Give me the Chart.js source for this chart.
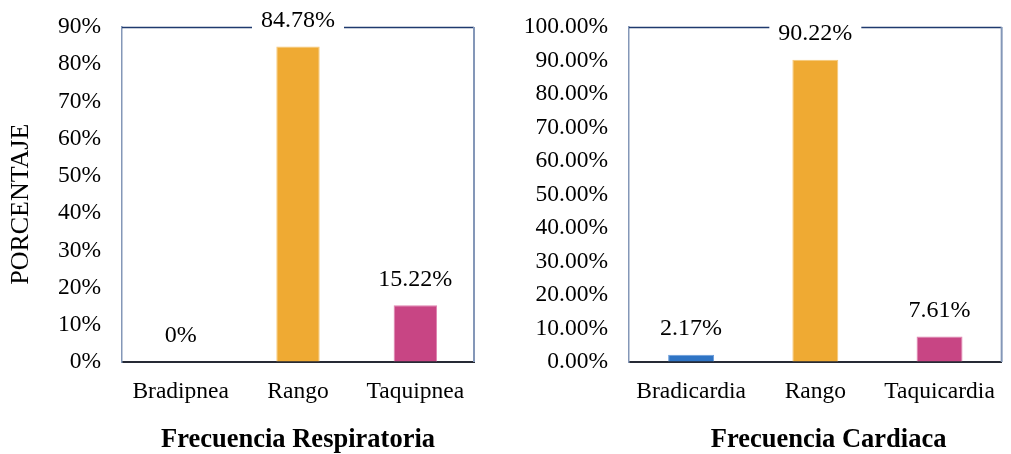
<!DOCTYPE html>
<html>
<head>
<meta charset="utf-8">
<script src="https://cdn.jsdelivr.net/npm/chart.js@4"></script>
<style>
  body { margin: 0; background: #fff; }
  #wrap { position: relative; width: 1011px; height: 454px; }
  #c1 { position: absolute; left: 0; top: 0; }
  #c2 { position: absolute; left: 510px; top: 0; }
</style>
</head>
<body>
<div id="wrap">
  <canvas id="c1" width="510" height="454"></canvas>
  <canvas id="c2" width="501" height="454"></canvas>
</div>
<script>
// Datos
const respLabels = ['Bradipnea', 'Rango', 'Taquipnea'];
const respValues = [0, 84.78, 15.22];
const respTitle = 'Frecuencia Respiratoria';

const cardLabels = ['Bradicardia', 'Rango', 'Taquicardia'];
const cardValues = [2.17, 90.22, 7.61];
const cardTitle = 'Frecuencia Cardiaca';

const barColors = ['#2F74C4', '#EFAA33', '#C84584'];
const barEdges = ['#6A9CDA', '#F6C877', '#E084B0'];

const serif = 'Liberation Serif';

// Borde del area del grafico + etiquetas con fondo blanco
const framePlugin = {
  id: 'frame',
  beforeDatasetsDraw(chart) {
    const a = chart.chartArea;
    const ctx = chart.ctx;
    ctx.save();
    ctx.lineWidth = 1.5;
    ctx.strokeStyle = '#1F3A6E';
    ctx.beginPath();
    ctx.moveTo(a.left, a.top + 0.5);
    ctx.lineTo(a.right, a.top + 0.5);
    ctx.stroke();
    ctx.lineWidth = 2;
    ctx.strokeStyle = '#8497B8';
    ctx.beginPath();
    ctx.moveTo(a.right, a.top);
    ctx.lineTo(a.right, a.bottom);
    ctx.stroke();
    ctx.restore();
  },
  afterDatasetsDraw(chart, args, opts) {
    const ctx = chart.ctx;
    const meta = chart.getDatasetMeta(0);
    const values = chart.data.datasets[0].data;
    ctx.save();
    ctx.font = '24px "' + serif + '"';
    ctx.textAlign = 'center';
    ctx.textBaseline = 'middle';
    meta.data.forEach(function (bar, i) {
      const txt = opts.format(values[i]);
      const w = ctx.measureText(txt).width;
      const y = bar.y - 26;
      ctx.fillStyle = '#fff';
      ctx.fillRect(bar.x - w / 2 - 9, y - 13, w + 18, 26);
      ctx.fillStyle = '#000';
      ctx.fillText(txt, bar.x, y);
    });
    ctx.restore();
  }
};

function makeChart(id, labels, values, title, maxY, tickFmt, labelFmt, yWidth, padRight, yTitle) {
  const ctx = document.getElementById(id).getContext('2d');
  return new Chart(ctx, {
    type: 'bar',
    data: {
      labels: labels,
      datasets: [{
        data: values,
        backgroundColor: barColors,
        borderColor: barEdges,
        borderWidth: 1,
        barPercentage: 0.37,
        categoryPercentage: 1
      }]
    },
    plugins: [framePlugin],
    options: {
      responsive: false,
      devicePixelRatio: 1,
      animation: false,
      layout: { padding: { top: 27, right: padRight, bottom: 0, left: 0 } },
      plugins: {
        legend: { display: false },
        tooltip: { enabled: false },
        frame: { format: labelFmt }
      },
      scales: {
        x: {
          grid: { display: false, drawTicks: false },
          border: { display: true, color: '#262A35', width: 2 },
          ticks: { color: '#000', padding: 16, font: { family: serif, size: 23.5 } },
          title: {
            display: true,
            text: title,
            color: '#000',
            padding: { top: 0, bottom: 1 },
            font: { family: serif, size: 26.5, weight: 'bold', lineHeight: 1 }
          },
          afterFit: function (s) { s.height = 92; }
        },
        y: {
          min: 0,
          max: maxY,
          grid: {
            display: true,
            color: 'rgba(0,0,0,0)',
            drawTicks: true,
            tickLength: 21,
            tickColor: 'rgba(0,0,0,0)'
          },
          border: { display: true, color: '#8497B8', width: 1.5 },
          ticks: {
            stepSize: 10,
            color: '#000',
            padding: 0,
            font: { family: serif, size: 23.5 },
            callback: tickFmt
          },
          title: {
            display: !!yTitle,
            text: yTitle || '',
            color: '#000',
            padding: { top: 6, bottom: 0 },
            font: { family: serif, size: 26, lineHeight: 1.2 }
          },
          afterFit: function (s) { s.width = yWidth; }
        }
      }
    }
  });
}

makeChart('c1', respLabels, respValues, respTitle, 90,
  function (v) { return v + '%'; },
  function (v) { return v === 0 ? '0%' : v.toFixed(2) + '%'; },
  122, 36, 'PORCENTAJE\u00a0\u00a0\u00a0');

makeChart('c2', cardLabels, cardValues, '\u00a0\u00a0\u00a0\u00a0' + cardTitle, 100,
  function (v) { return v.toFixed(2) + '%'; },
  function (v) { return v.toFixed(2) + '%'; },
  119, 1, null);
</script>
</body>
</html>
